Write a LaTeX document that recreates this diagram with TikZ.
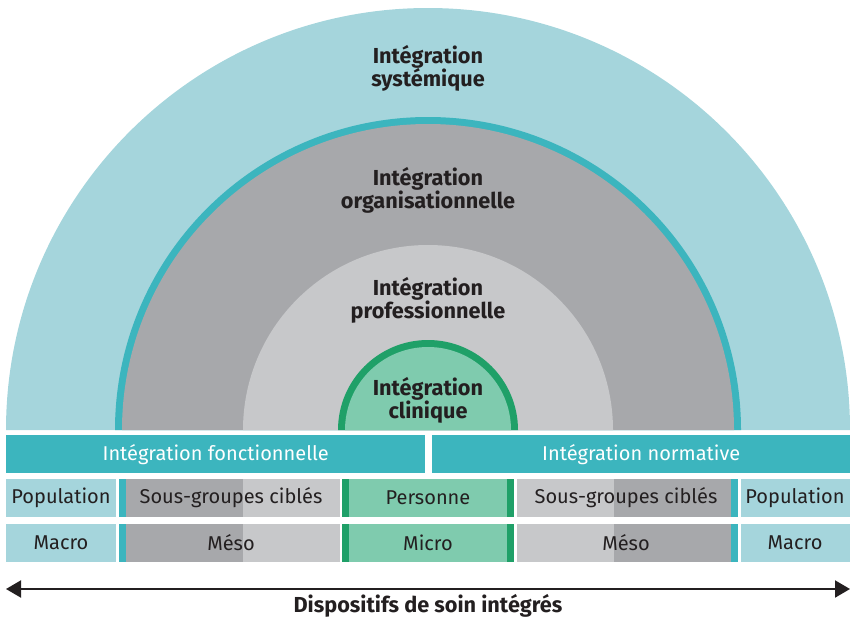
\documentclass[tikz,border=0pt]{standalone}
\usepackage{fontspec}
\setmainfont{Fira Sans}
\usetikzlibrary{arrows.meta,positioning}

\definecolor{skyteal}{HTML}{A5D5DC}
\definecolor{ringteal}{HTML}{3CB5BE}
\definecolor{darkgrey}{HTML}{A7A8AB}
\definecolor{lightgrey}{HTML}{C7C8CA}
\definecolor{mintgreen}{HTML}{7FCBAE}
\definecolor{deepgreen}{HTML}{1FA068}
\definecolor{inkgray}{HTML}{231F20}

\begin{document}
\begin{tikzpicture}[
    x=1pt, y=-1pt,
    font=\fontsize{20}{22}\selectfont,
    title/.style={align=center, text=inkgray, font=\fontsize{21.7}{23}\selectfont\bfseries},
    band/.style={rectangle, fill=ringteal, text=white, anchor=north west, minimum height=38pt, inner sep=0pt},
    cell/.style={text=inkgray, inner sep=0pt},
    arrow/.style={{Triangle[length=15pt,width=17pt]}-{Triangle[length=15pt,width=17pt]}, line width=2pt, draw=inkgray}
]
    \useasboundingbox (0,0) rectangle (850,621);

    % --- 1. Half discs ---
    \fill[skyteal] (6,430) arc[start angle=180, end angle=360, radius=422] -- cycle;
    \fill[ringteal] (115,430) arc[start angle=180, end angle=360, radius=313] -- cycle;
    \fill[darkgrey] (122,430) arc[start angle=180, end angle=360, radius=306] -- cycle;
    \fill[lightgrey] (243,430) arc[start angle=180, end angle=360, radius=185] -- cycle;
    \fill[deepgreen] (338,430) arc[start angle=180, end angle=360, radius=90] -- cycle;
    \fill[mintgreen] (345,430) arc[start angle=180, end angle=360, radius=83] -- cycle;

    \node[title] (sys) at (428,68) {Intégration\\systémique};
    \node[title] (orga) at (428,190) {Intégration\\organisationnelle};
    \node[title] (prof) at (428,300) {Intégration\\professionnelle};
    \node[title] (clin) at (428,400) {Intégration\\clinique};

    % --- 2. Bands ---
    \node[band, minimum width=419pt] (fonct) at (6,435) {Intégration fonctionnelle};
    \node[band, minimum width=418pt] (norm) at (432,435) {Intégration normative};

    % --- 3. Rows (cell backgrounds) ---
    \foreach \top in {479,524} {
        \fill[skyteal] (6,\top) rectangle (116,\top+38);
        \fill[ringteal] (119,\top) rectangle (126,\top+38);
        \fill[darkgrey] (126,\top) rectangle (243,\top+38);
        \fill[lightgrey] (243,\top) rectangle (340,\top+38);
        \fill[deepgreen] (342,\top) rectangle (349,\top+38);
        \fill[mintgreen] (349,\top) rectangle (507,\top+38);
        \fill[deepgreen] (507,\top) rectangle (514,\top+38);
        \fill[lightgrey] (517,\top) rectangle (614,\top+38);
        \fill[darkgrey] (614,\top) rectangle (731,\top+38);
        \fill[ringteal] (731,\top) rectangle (738,\top+38);
        \fill[skyteal] (741,\top) rectangle (850,\top+38);
    }

    \node[cell] (popL) at (61,498) {Population};
    \node[cell] (sgL) at (231,498) {Sous-groupes ciblés};
    \node[cell] (pers) at (428,498) {Personne};
    \node[cell] (sgR) at (626,498) {Sous-groupes ciblés};
    \node[cell] (popR) at (795,498) {Population};

    \node[cell] (macroL) at (61,543) {Macro};
    \node[cell] (mesoL) at (231,543) {Méso};
    \node[cell] (micro) at (428,543) {Micro};
    \node[cell] (mesoR) at (626,543) {Méso};
    \node[cell] (macroR) at (795,543) {Macro};

    % --- 4. Axis ---
    \coordinate (axisL) at (6,589);
    \coordinate (axisR) at (850,589);
    \draw[arrow] (axisL) -- (axisR);
    \node[title, below=2pt of micro |- axisL] (axis) {Dispositifs de soin intégrés};

\end{tikzpicture}
\end{document}
